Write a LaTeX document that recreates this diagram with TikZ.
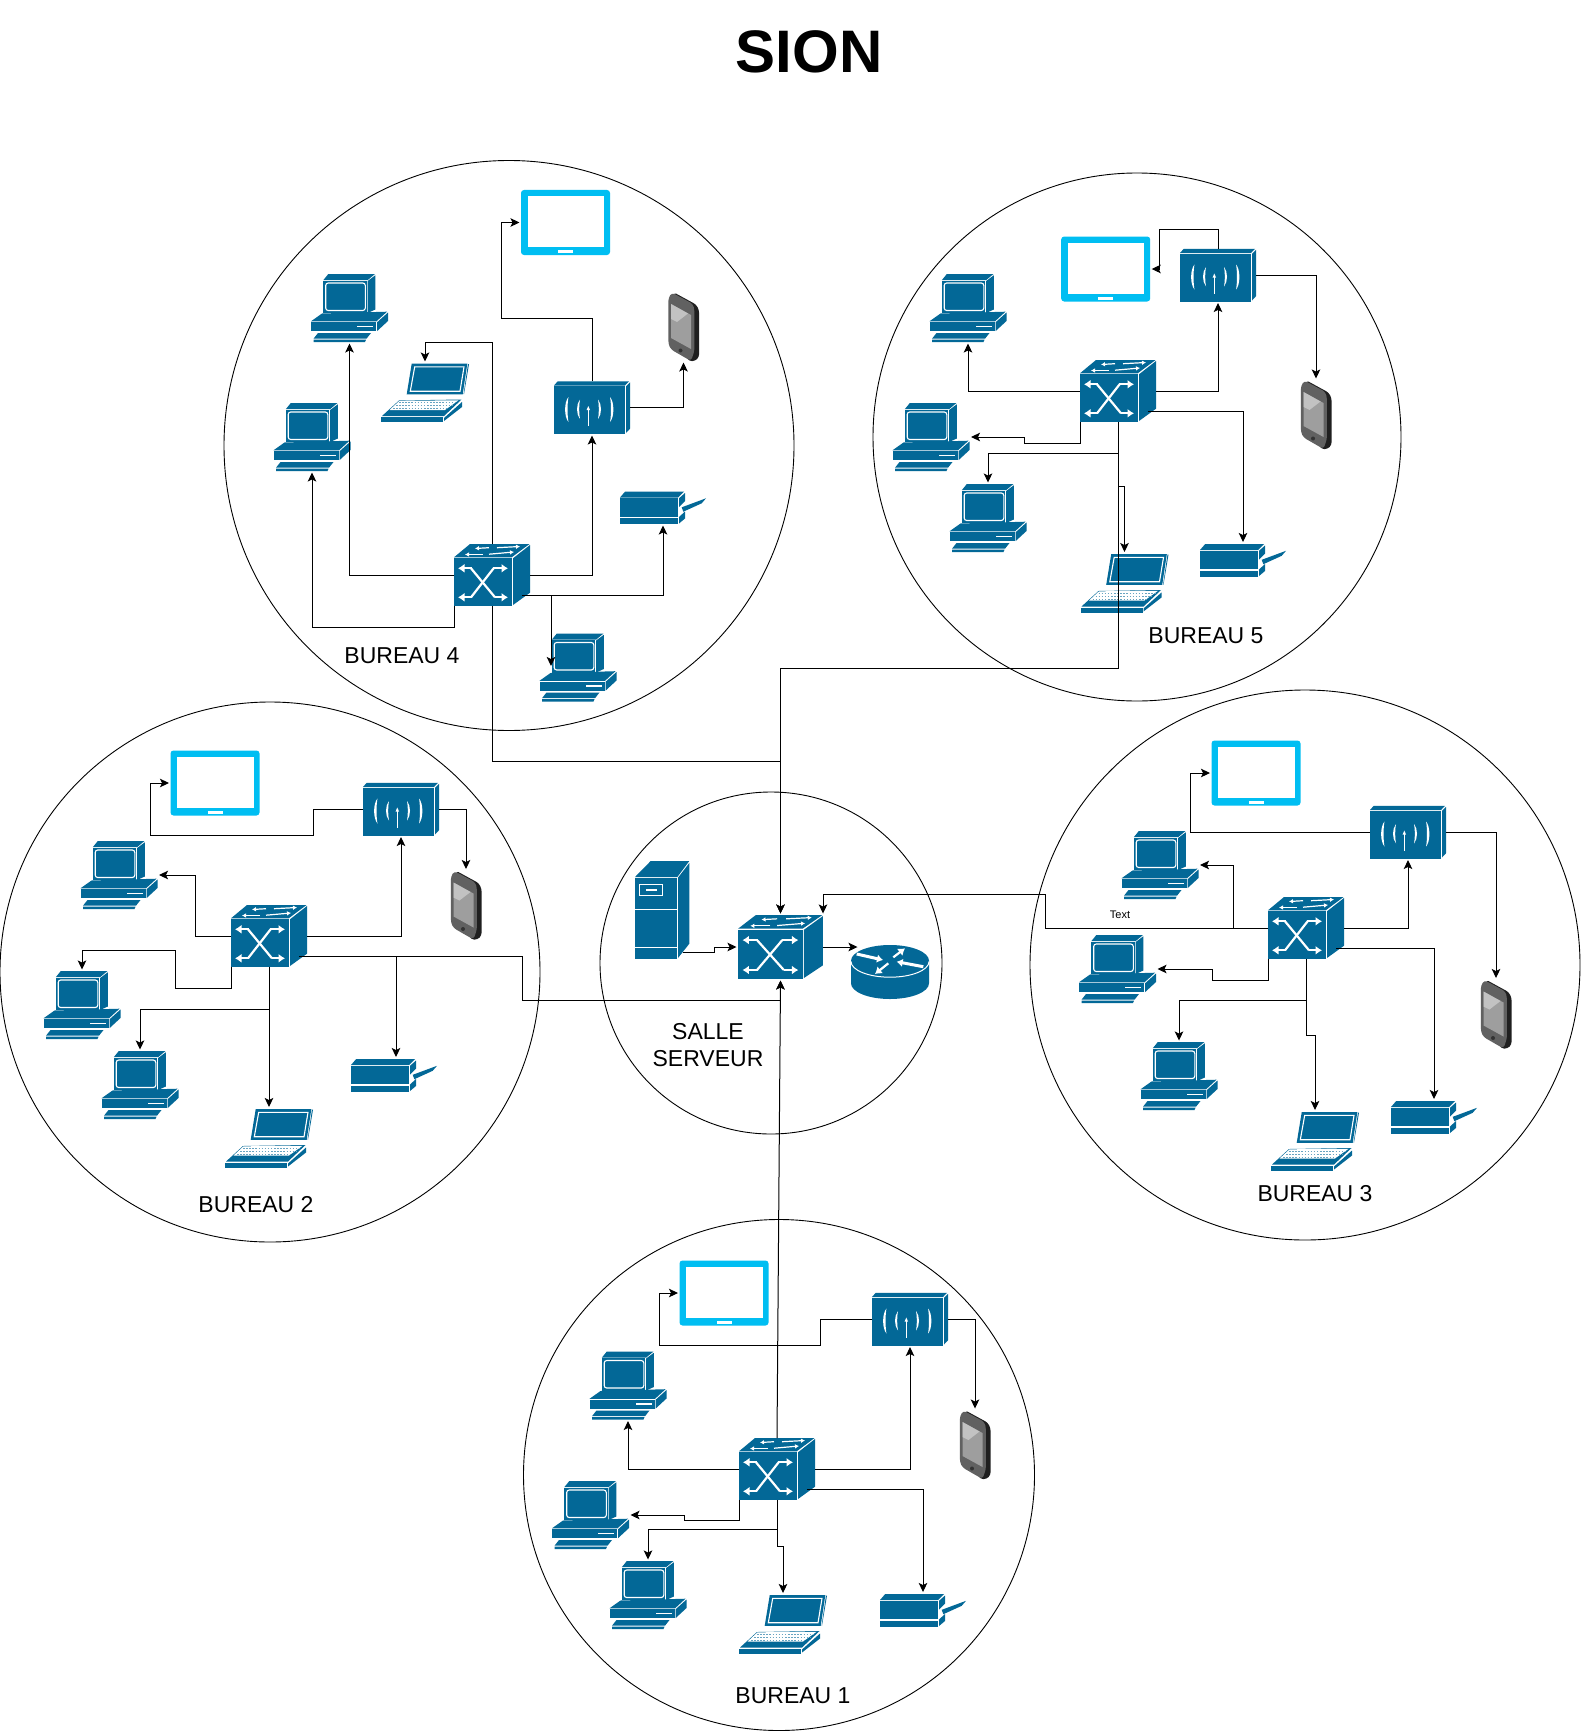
\documentclass[tikz,border=0pt]{standalone}
\usepackage{fontspec}
\setmainfont{Liberation Sans}
\usetikzlibrary{arrows.meta,calc}
\definecolor{dev}{HTML}{036897}
\definecolor{tabc}{HTML}{00BEF2}
\tikzset{
  zone/.style={draw=black,line width=0.9pt},
  link/.style={draw=black,line width=1pt,shorten >=1.5pt,-{Stealth[length=9pt,width=8.5pt,inset=2pt]}},
  wks box/.style={inner sep=0,outer sep=0,minimum width=77pt,minimum height=68pt},
  lap box/.style={inner sep=0,outer sep=0,minimum width=88pt,minimum height=59pt},
  swi box/.style={inner sep=0,outer sep=0,minimum width=76pt,minimum height=62pt},
  cor box/.style={inner sep=0,outer sep=0,minimum width=85pt,minimum height=64pt},
  apt box/.style={inner sep=0,outer sep=0,minimum width=76pt,minimum height=53pt},
  prn box/.style={inner sep=0,outer sep=0,minimum width=86pt,minimum height=33pt},
  tab box/.style={inner sep=0,outer sep=0,minimum width=89pt,minimum height=65pt},
  pho box/.style={inner sep=0,outer sep=0,minimum width=31pt,minimum height=69pt},
  srv box/.style={inner sep=0,outer sep=0,minimum width=54pt,minimum height=98pt},
  rou box/.style={inner sep=0,outer sep=0,minimum width=78pt,minimum height=54pt},
  lbl/.style={inner sep=0,font=\fontsize{23}{27.6}\selectfont,align=center,text=black},
  tiny tip/.style={white,line width=1.2pt,-{Latex[length=4pt,width=4.6pt]}},
  big tip/.style={white,line width=2.2pt,-{Latex[length=6.5pt,width=9pt]}},
  fat tip/.style={white,line width=3pt,-{Latex[length=6pt,width=8.5pt]}},
}
\newcommand\swicode{%
  \fill[dev] (0,14.3) rectangle (57.7,62);
  \fill[dev] (0,13.3) -- (16,0) -- (75.5,0) -- (57.7,13.3) -- cycle;
  \fill[dev] (59,14.3) -- (76,1) -- (76,48.7) -- (59,61) -- cycle;
  \draw[big tip] (18,24.3) -- (4,24.3);
  \draw[big tip] (18,53.3) -- (4,53.3);
  \draw[big tip] (39.3,24.3) -- (54,24.3);
  \draw[big tip] (41,53.3) -- (54,53.3);
  \draw[white,line width=2.2pt] (17,24.3) -- (41,53.3);
  \draw[white,line width=2.2pt] (17,53.3) -- (39.6,24.3);
  \draw[tiny tip] (35,3.7) -- (21,4.5);
  \draw[tiny tip] (43,3.7) -- (66,2.5);
  \draw[tiny tip] (29,10.5) -- (11,10.5);
  \draw[tiny tip] (35,10.2) -- (60,8);
}
\newcommand\crescent[4]{\fill[white] (#1,#2) .. controls (#4,#2+5) and (#4,#3-5) .. (#1,#3) .. controls ({0.72*#1+0.28*#4},#3-5) and ({0.72*#1+0.28*#4},#2+5) .. (#1,#2) -- cycle;}
\tikzset{
  wks/.pic={\begin{scope}[shift={(-38.5,-34)}]
    \fill[dev] (12.3,6.7) rectangle (55.7,39);
    \fill[dev] (12.3,6.2) -- (17.3,0) -- (64,0) -- (56.5,6.2) -- cycle;
    \fill[dev] (56.7,7) -- (64.3,1.3) -- (64.3,35.5) -- (56.7,39) -- cycle;
    \draw[white,line width=1.1pt,rounded corners=2.5pt] (14.7,9) rectangle (54.3,36.5);
    \fill[dev] (0,47.3) -- (11,39.5) -- (76,37.7) -- (65.5,47.3) -- cycle;
    \fill[dev] (0,48.2) rectangle (65,57.3);
    \fill[dev] (66.2,48.2) -- (77,38.5) -- (77,47) -- (66.2,57) -- cycle;
    \fill[white] (46,51.5) rectangle (62,53);
    \fill[dev] (7,59) -- (60,59) -- (55.5,64.7) -- (2.5,64.7) -- cycle;
    \fill[dev] (2.5,65.7) -- (55,65.7) -- (54,68) -- (2.5,68) -- cycle;
  \end{scope}},
  lap/.pic={\begin{scope}[shift={(-44,-29.5)}]
    \fill[dev] (30.7,0.7) -- (86.3,0.7) -- (81.7,31.3) -- (25.7,31.3) -- cycle;
    \fill[dev] (87,1) -- (88,1) -- (83,31) -- (82.6,31) -- cycle;
    \draw[white,line width=1.1pt] (33.7,3.8) -- (83,3.8) -- (79,28.2) -- (29.3,28.2) -- cycle;
    \fill[dev] (1,53) -- (18,37.5) -- (80.5,36.5) -- (63,53) -- cycle;
    \fill[white] (18.5,37.8) -- (77.5,37.3) -- (64,47) -- (8.5,47) -- cycle;
    \draw[dev!60,line width=0.9pt,dash pattern=on 1.5pt off 1.6pt] (18,39.5) -- (75,39.5);
    \draw[dev!60,line width=0.9pt,dash pattern=on 1.5pt off 1.6pt] (15,42.5) -- (71,42.5);
    \draw[dev!60,line width=0.9pt,dash pattern=on 1.5pt off 1.6pt] (12,45.5) -- (67,45.5);
    \fill[dev] (0,54) -- (62,54) -- (62,59) -- (0,59) -- cycle;
    \fill[dev] (63,55) -- (81,39) -- (81,44) -- (63,58) -- cycle;
  \end{scope}},
  swi/.pic={\begin{scope}[shift={(-38,-31)}]\swicode\end{scope}},
  cor/.pic={\begin{scope}[shift={(-42.5,-32)},xscale=1.118,yscale=1.032]\swicode\end{scope}},
  apt/.pic={\begin{scope}[shift={(-38,-26.5)}]
    \fill[dev] (0,5.3) rectangle (71,53);
    \fill[dev] (0,4.5) -- (3.7,0.3) -- (75,0.3) -- (71,4.5) -- cycle;
    \fill[dev] (72,5.3) -- (76,1.3) -- (76,47.7) -- (72,52) -- cycle;
    \draw[white,line width=1pt] (34.3,45) -- (34.3,28);
    \fill[white] (34.3,25) -- (36,29) -- (32.6,29) -- cycle;
    \crescent{26}{18.5}{38}{22}
    \crescent{14.5}{16}{41}{10}
    \crescent{44}{18.5}{38}{48}
    \crescent{56}{16}{41}{60.5}
  \end{scope}},
  prn/.pic={\begin{scope}[shift={(-43,-16.5)}]
    \fill[dev] (0,7.3) rectangle (58,25.7);
    \fill[dev] (0,27.3) rectangle (58,33);
    \fill[dev] (0,6.5) -- (5,0.7) -- (64,0.7) -- (58,6.5) -- cycle;
    \fill[dev] (59,7.3) -- (65,2) -- (65,10) -- (59,16) -- cycle;
    \fill[dev] (59,26) -- (65,20.5) -- (65,27.5) -- (59,32.5) -- cycle;
    \fill[dev] (61.7,16.3) -- (86,7.3) -- (81.7,12.3) -- (63.3,20.7) -- cycle;
  \end{scope}},
  tab/.pic={\begin{scope}[shift={(-44.5,-32.5)}]
    \fill[tabc,rounded corners=3pt] (0,0) rectangle (89,65);
    \fill[white] (6.5,6.3) rectangle (83,57);
    \fill[white] (37,60) rectangle (52,63);
  \end{scope}},
  pho/.pic={\begin{scope}[shift={(-15.5,-34.5)}]
    \fill[black!88,rounded corners=2.5pt] (6,0.5) -- (28,12.5) -- (31,18) -- (31,65) -- (27,69) -- (21,69) -- (4,40) -- cycle;
    \fill[black!62,rounded corners=3pt] (0.4,6) -- (4,0.6) -- (25,12) -- (26.4,18) -- (26.4,59) -- (23,69) -- (3,57.5) -- (0.4,52) -- cycle;
    \fill[black!38] (3,12) -- (23,23) -- (23,57) -- (3,46) -- cycle;
    \fill[black!24] (3,12) -- (20,21.5) -- (9,30) -- (3,27) -- cycle;
    \fill[black!80] (12.5,58.5) circle (2pt);
  \end{scope}},
  srv/.pic={\begin{scope}[shift={(-27,-49)}]
    \fill[dev] (0,16.7) rectangle (41.7,98.3);
    \fill[dev] (0,16) -- (15.7,0) -- (54.3,0) -- (42.3,16) -- cycle;
    \fill[dev] (43,16.7) -- (54.3,2) -- (54.3,82.7) -- (43,97) -- cycle;
    \draw[white,line width=0.8pt] (0,48.7) -- (41.7,48.7);
    \draw[white,line width=0.8pt] (0,86.7) -- (41.7,86.7);
    \draw[white,line width=0.9pt] (4.3,23.3) rectangle (27.7,34.3);
    \fill[white] (11,28.2) rectangle (21.7,29.6);
  \end{scope}},
  rou/.pic={\begin{scope}[shift={(-39,-27)}]
    \fill[dev] (0,15.7) -- (0,38.3) arc[start angle=180,end angle=0,x radius=39,y radius=15.7] -- (78,15.7) -- cycle;
    \fill[dev] (39,15.7) ellipse[x radius=39,y radius=15.7];
    \draw[white,line width=1pt] (0,16.5) arc[start angle=180,end angle=0,x radius=39,y radius=15.7];
    \draw[fat tip] (5.7,9) -- (32,15);
    \draw[fat tip] (72.3,21.7) -- (45.7,16.7);
    \draw[big tip] (42.3,12.3) -- (54,3.3);
    \draw[big tip] (37.3,18.3) -- (24,29);
  \end{scope}},
}
\newcommand\devlist{%
  tab/tab4/565.5/222.5, wks/pc4a/349.5/308, wks/pc4b/312/437, lap/lap4/425/392.5, apt/ap4/592/407.5,
  pho/pho4/683.5/326.5, prn/prn4/663/507.5, swi/sw4/492/575, wks/pc4c/578/667.5,
  tab/tab5/1105.7/269, apt/ap5/1218/275, wks/pc5a/968/308, pho/pho5/1316/414.5, swi/sw5/1118/391,
  wks/pc5b/931/437, wks/pc5c/988/518, lap/lap5/1124.5/583, prn/prn5/1243/560,
  tab/tab2/215/783, apt/ap2/401/809, wks/pc2a/119/875, pho/pho2/466/905, swi/sw2/269/936,
  wks/pc2b/82/1005, wks/pc2c/140/1085, lap/lap2/269/1138, prn/prn2/394/1075,
  tab/tab3/1256/773, apt/ap3/1408/832, wks/pc3a/1160/865, pho/pho3/1496/1014, swi/sw3/1306/928,
  wks/pc3b/1117.5/969, wks/pc3c/1179/1076, lap/lap3/1315/1141, prn/prn3/1434/1117,
  tab/tab1/724/1293, apt/ap1/910/1319, wks/pc1a/628/1385.5, pho/pho1/975/1444.5, swi/sw1/777/1469,
  wks/pc1b/590.5/1515, wks/pc1c/648/1595, lap/lap1/783/1624, prn/prn1/923/1610,
  srv/srvr/662/910, cor/core/780.5/947, rou/rtr/890/972}
\begin{document}
\begin{tikzpicture}[x=1pt,y=-1pt]
\fill[white] (0,0) rectangle (1582,1731);
\useasboundingbox (0,0) rectangle (1582,1731);
% zones
\draw[zone] (509,445.5) circle[radius=285];
\draw[zone] (1137,437) circle[radius=264];
\draw[zone] (270,972) circle[radius=270];
\draw[zone] (1305,965) circle[radius=275];
\draw[zone] (771,963) circle[radius=171];
\draw[zone] (779,1475) circle[radius=255.5];
% devices
\foreach \t/\n/\x/\y in \devlist {\edef\tmp{\noexpand\node[\t\space box] (\n) at (\x,\y) {};}\tmp}
\foreach \t/\n/\x/\y in \devlist {\edef\tmp{\noexpand\pic at (\n.center) {\t};}\tmp}
% free branch points
\coordinate (s4l) at ([xshift=-8,yshift=-20]sw4.east);
\coordinate (s5l) at ([xshift=-8,yshift=-20]sw5.east);
\coordinate (s2l) at ([xshift=-8,yshift=-20]sw2.east);
\coordinate (s3l) at ([xshift=-8,yshift=-20]sw3.east);
\coordinate (s1l) at ([xshift=-8,yshift=-20]sw1.east);
\coordinate (b4) at ([xshift=29]s4l);
\coordinate (b2p) at ([xshift=97]s2l);
% bureau 4
\draw[link] (sw4.west) -| (pc4a.south);
\draw[link] (sw4.south west) -- ++(0,21) -| (pc4b.south);
\draw[link] (sw4.east) -| (ap4.south);
\draw[link] (s4l) -| (prn4.south);
\draw[link] (ap4.north) -- ++(0,-63) -- ++(-91,0) |- (tab4.west);
\draw[link] (ap4.east) -| (pho4.south);
\draw[link] (sw4.north) -- ++(0,-202) -| (lap4.north);
\draw[link] (sw4.south) -- ++(0,155) -| (core.north);
\draw[link] (b4) -- ([xshift=11.5]pc4c.west);
% bureau 5
\draw[link] (sw5.west) -| (pc5a.south);
\draw[link] (sw5.east) -| (ap5.south);
\draw[link] (ap5.north) -- ++(0,-19) -- ++(-59,0) |- (tab5.east);
\draw[link] (ap5.east) -| (pho5.north);
\draw[link] (sw5.south west) -- ++(0,21) -- ++(-55.5,0) |- (pc5b.east);
\draw[link] (sw5.south) -- ++(0,31) -| (pc5c.north);
\draw[link] (sw5.south) -- ++(0,246) -| (core.north);
\draw[link] ([yshift=-64]sw5.south) -| (lap5.north);
\draw[link] (s5l) -| (prn5.north);
% bureau 2
\draw[link] (sw2.west) -- ++(-36,0) |- (pc2a.east);
\draw[link] (sw2.east) -| (ap2.south);
\draw[link] (ap2.west) -- ++(-50,0) -- ++(0,26) -- ++(-163,0) |- (tab2.west);
\draw[link] (ap2.east) -| (pho2.north);
\draw[link] (sw2.south west) -- ++(0,21) -- ++(-55.5,0) -- ++(0,-38) -| (pc2b.north);
\draw[link] (sw2.south) -- (lap2.north);
\draw[link] ([yshift=-42]sw2.south) -| (pc2c.north);
\draw[link] (s2l) -- ++(223,0) -- ++(0,44) -| (core.south);
\draw[link] (b2p) -- (b2p |- prn2.north);
% bureau 3
\draw[link] (sw3.west) -- ++(-223,0) -- ++(0,-34) -| (core.north east);
\draw[link] ([xshift=-35]sw3.west) |- (pc3a.east);
\draw[link] (sw3.south west) -- ++(0,21) -- ++(-56,0) |- (pc3b.east);
\draw[link] (sw3.south) -- ++(0,76) -| (lap3.north);
\draw[link] ([yshift=-41]sw3.south) -| (pc3c.north);
\draw[link] (sw3.east) -| (ap3.south);
\draw[link] (ap3.west) -- ++(-180,0) |- (tab3.west);
\draw[link] (ap3.east) -| (pho3.north);
\draw[link] (s3l) -| (prn3.north);
% bureau 1
\draw[link] (sw1.west) -| (pc1a.south);
\draw[link] (sw1.east) -| (ap1.south);
\draw[link] (ap1.west) -- ++(-52,0) -- ++(0,26) -- ++(-161,0) |- (tab1.west);
\draw[link] (ap1.east) -| (pho1.north);
\draw[link] (sw1.south west) -- ++(0,20) -- ++(-54.5,0) |- (pc1b.east);
\draw[link] (sw1.south) -- ++(0,46) -| (lap1.north);
\draw[link] ([yshift=-29]sw1.south) -| (pc1c.north);
\draw[link] (sw1.north) -- (core.south);
\draw[link] (s1l) -| (prn1.north);
% salle serveur
\draw[link] ([xshift=-6,yshift=-42]srvr.east) -- ++(31,0) |- (core.west);
\draw[link] (core.east) -- ([xshift=8,yshift=25]rtr.west);
% labels
\node[inner sep=0,font=\fontsize{60}{72}\selectfont\bfseries] (title) at (809,52) {SION};
\node[lbl] (l4) at (402,655.5) {BUREAU 4};
\node[lbl] (l5) at (1206,635.5) {BUREAU 5};
\node[lbl] (l2) at (256,1205) {BUREAU 2};
\node[lbl] (l3) at (1315,1194) {BUREAU 3};
\node[lbl] (l1) at (793,1695.5) {BUREAU 1};
\node[lbl] (ls) at (708,1045) {SALLE\\SERVEUR};
\node[inner sep=0,font=\fontsize{11}{13}\selectfont,text=black] (lt) at (1120,914.5) {Text};
\end{tikzpicture}
\end{document}
